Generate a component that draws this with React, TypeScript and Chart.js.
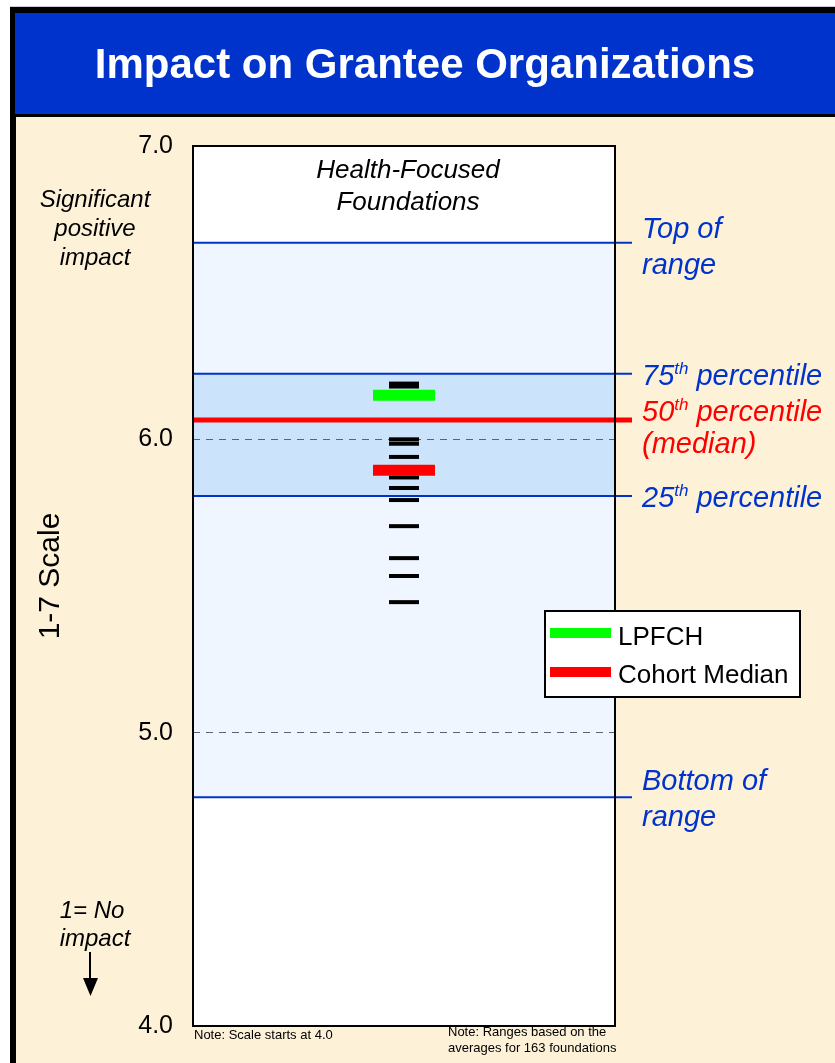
import React, { useEffect, useRef } from "react";
import { Chart, registerables } from "chart.js";

Chart.register(...registerables);

// ---- data ----
const category = ["Health-Focused", "Foundations"];
const foundationScores = [6.19, 6.18, 6.0, 5.985, 5.94, 5.87, 5.834, 5.793, 5.704, 5.595, 5.534, 5.445];
const lpfchScore = [6.15];
const cohortMedianScore = [5.895];
const rangeNames = ["Bottom of range", "25th percentile", "50th percentile (median)", "75th percentile", "Top of range"];
const rangeValues = [4.78, 5.807, 6.066, 6.224, 6.67];
const yTicks = [4, 5, 6, 7];
const legendLabels = ["LPFCH", "Cohort Median"];
const titleText = "Impact on Grantee Organizations";

const FONT = "\"Liberation Sans\", Arial, Helvetica, sans-serif";
const BLUE = "#0033cc";
const BEIGE = "#fdf2d8";

function supText(ctx: CanvasRenderingContext2D, x: number, y: number, base: string, sup: string, rest: string, size: number, color: string) {
  ctx.fillStyle = color;
  ctx.textAlign = "left";
  ctx.textBaseline = "alphabetic";
  ctx.font = `italic ${size}px ${FONT}`;
  ctx.fillText(base, x, y);
  let cx = x + ctx.measureText(base).width;
  ctx.font = `italic ${Math.round(size * 0.6)}px ${FONT}`;
  ctx.fillText(sup, cx, y - size * 0.38);
  cx += ctx.measureText(sup).width;
  ctx.font = `italic ${size}px ${FONT}`;
  ctx.fillText(rest, cx, y);
}

const decorPlugin = {
  id: "decor",
  beforeDraw(chart: any) {
    const { ctx, chartArea, scales } = chart;
    const y = scales.y;
    const W = chart.width, H = chart.height;
    ctx.save();
    ctx.fillStyle = "#ffffff";
    ctx.fillRect(0, 0, W, H);
    ctx.fillStyle = "#d0d0d0";
    ctx.fillRect(10, 6, W, 1);
    ctx.fillStyle = "#000000";
    ctx.fillRect(10, 7, W, H);
    ctx.fillStyle = BLUE;
    ctx.fillRect(15, 13, W, 101);
    ctx.fillStyle = BEIGE;
    ctx.fillRect(16, 117, W, H);
    // plot area
    ctx.fillStyle = "#ffffff";
    ctx.fillRect(chartArea.left, chartArea.top, chartArea.right - chartArea.left, chartArea.bottom - chartArea.top);
    const yTop = y.getPixelForValue(rangeValues[4]);
    const yBot = y.getPixelForValue(rangeValues[0]);
    const y75 = y.getPixelForValue(rangeValues[3]);
    const y25 = y.getPixelForValue(rangeValues[1]);
    ctx.fillStyle = "#f0f6ff";
    ctx.fillRect(chartArea.left, yTop, chartArea.right - chartArea.left, yBot - yTop);
    ctx.fillStyle = "#cce4fb";
    ctx.fillRect(chartArea.left, y75, chartArea.right - chartArea.left, y25 - y75);
    ctx.restore();
  },
  beforeDatasetsDraw(chart: any) {
    const { ctx, chartArea, scales } = chart;
    const y = scales.y;
    ctx.save();
    rangeValues.forEach((v, i) => {
      const py = y.getPixelForValue(v);
      ctx.beginPath();
      if (i === 2) {
        ctx.strokeStyle = "#ff0000";
        ctx.lineWidth = 5;
      } else {
        ctx.strokeStyle = BLUE;
        ctx.lineWidth = 2;
      }
      ctx.moveTo(chartArea.left, py);
      ctx.lineTo(chartArea.right + 17, py);
      ctx.stroke();
    });
    ctx.restore();
  },
  afterDraw(chart: any) {
    const { ctx, chartArea, scales } = chart;
    const y = scales.y;
    ctx.save();
    // plot border
    ctx.strokeStyle = "#000";
    ctx.lineWidth = 2;
    ctx.strokeRect(chartArea.left, chartArea.top, chartArea.right - chartArea.left, chartArea.bottom - chartArea.top);

    // title
    ctx.fillStyle = "#ffffff";
    ctx.font = `bold 42px ${FONT}`;
    ctx.textAlign = "center";
    ctx.textBaseline = "middle";
    ctx.fillText(titleText, 425, 66);

    // category label
    ctx.fillStyle = "#000";
    ctx.font = `italic 26px ${FONT}`;
    const cx = (chartArea.left + chartArea.right) / 2;
    ctx.fillText(category[0], cx + 4, 171);
    ctx.fillText(category[1], cx + 4, 203);

    // left annotations
    ctx.font = `italic 24px ${FONT}`;
    ctx.textBaseline = "middle";
    ctx.fillText("Significant", 95, 200);
    ctx.fillText("positive", 95, 229);
    ctx.fillText("impact", 95, 258);
    ctx.fillText("1= No", 92, 911);
    ctx.fillText("impact", 95, 939);
    ctx.textBaseline = "alphabetic";
    // arrow
    ctx.strokeStyle = "#000";
    ctx.lineWidth = 2;
    ctx.beginPath();
    ctx.moveTo(90, 952);
    ctx.lineTo(90, 982);
    ctx.stroke();
    ctx.beginPath();
    ctx.moveTo(83, 978);
    ctx.lineTo(98, 978);
    ctx.lineTo(90.5, 996);
    ctx.closePath();
    ctx.fill();

    // axis title
    ctx.save();
    ctx.translate(51, 576);
    ctx.rotate(-Math.PI / 2);
    ctx.font = `30px ${FONT}`;
    ctx.textAlign = "center";
    ctx.textBaseline = "middle";
    ctx.fillText("1-7 Scale", 0, 0);
    ctx.restore();

    // right labels
    const lx = 642;
    const yTop = y.getPixelForValue(rangeValues[4]);
    const y75 = y.getPixelForValue(rangeValues[3]);
    const yMed = y.getPixelForValue(rangeValues[2]);
    const y25 = y.getPixelForValue(rangeValues[1]);
    const yBot = y.getPixelForValue(rangeValues[0]);
    const fs = 29;
    ctx.font = `italic ${fs}px ${FONT}`;
    ctx.textAlign = "left";
    ctx.fillStyle = BLUE;
    ctx.fillText("Top of", lx, yTop - 5);
    ctx.fillText("range", lx, yTop + 31);
    supText(ctx, lx, y75 + 11, "75", "th", " percentile", fs, BLUE);
    supText(ctx, lx, yMed + 1, "50", "th", " percentile", fs, "#ff0000");
    ctx.fillStyle = "#ff0000";
    ctx.font = `italic ${fs}px ${FONT}`;
    ctx.fillText("(median)", lx, yMed + 33);
    supText(ctx, lx, y25 + 11, "25", "th", " percentile", fs, BLUE);
    ctx.fillStyle = BLUE;
    ctx.font = `italic ${fs}px ${FONT}`;
    ctx.fillText("Bottom of", lx, yBot - 7);
    ctx.fillText("range", lx, yBot + 29);

    // legend
    ctx.fillStyle = "#ffffff";
    ctx.fillRect(545, 611, 255, 86);
    ctx.strokeStyle = "#000";
    ctx.lineWidth = 2;
    ctx.strokeRect(545, 611, 255, 86);
    ctx.fillStyle = "#00ff00";
    ctx.fillRect(550, 628, 61, 10);
    ctx.fillStyle = "#ff0000";
    ctx.fillRect(550, 667, 61, 10);
    ctx.fillStyle = "#000";
    ctx.font = `26px ${FONT}`;
    ctx.fillText(legendLabels[0], 618, 645);
    ctx.fillText(legendLabels[1], 618, 683);

    // notes
    ctx.font = `13px ${FONT}`;
    ctx.fillText("Note: Scale starts at 4.0", 194, 1039);
    ctx.fillText("Note: Ranges based on the", 448, 1036);
    ctx.fillText("averages for 163 foundations", 448, 1052);
    ctx.restore();
  },
};

export default function App() {
  const ref = useRef<HTMLCanvasElement>(null);
  useEffect(() => {
    if (!ref.current) return;
    const chart = new Chart(ref.current, {
      type: "scatter",
      data: {
        datasets: [
          {
            label: legendLabels[0],
            data: lpfchScore.map((v) => ({ x: 0.5, y: v })),
            pointStyle: "line",
            radius: 31,
            borderWidth: 11,
            borderColor: "#00ff00",
            backgroundColor: "#00ff00",
          },
          {
            label: legendLabels[1],
            data: cohortMedianScore.map((v) => ({ x: 0.5, y: v })),
            pointStyle: "line",
            radius: 31,
            borderWidth: 11,
            borderColor: "#ff0000",
            backgroundColor: "#ff0000",
          },
          {
            label: "Foundations",
            data: foundationScores.map((v) => ({ x: 0.5, y: v })),
            pointStyle: "line",
            radius: 15,
            borderWidth: 4,
            borderColor: "#000000",
            backgroundColor: "#000000",
          },
        ],
      },
      options: {
        responsive: false,
        animation: false,
        events: [],
        layout: { autoPadding: false, padding: { left: 0, top: 146, right: 220, bottom: 37 } },
        plugins: { legend: { display: false }, tooltip: { enabled: false } },
        scales: {
          x: { type: "linear", min: 0, max: 1, display: false },
          y: {
            min: 4,
            max: 7,
            afterFit: (s: any) => {
              s.width = 193;
            },
            afterBuildTicks: (s: any) => {
              s.ticks = yTicks.map((v) => ({ value: v }));
            },
            ticks: {
              padding: 20,
              color: "#000",
              font: { family: FONT, size: 25 },
              callback: (v: any) => Number(v).toFixed(1),
            },
            grid: {
              drawTicks: false,
              lineWidth: 1,
              color: (c: any) => (c.tick && (c.tick.value === 5 || c.tick.value === 6) ? "#5a6478" : "rgba(0,0,0,0)"),
            },
            border: { display: false, dash: [7, 6] },
          },
        },
      },
      plugins: [decorPlugin],
    });
    return () => chart.destroy();
  }, []);
  return (
    <div style={{ position: "absolute", left: 0, top: 0, width: 835, height: 1063 }}>
      <canvas ref={ref} width={835} height={1063} style={{ display: "block", width: 835, height: 1063 }} />
    </div>
  );
}
